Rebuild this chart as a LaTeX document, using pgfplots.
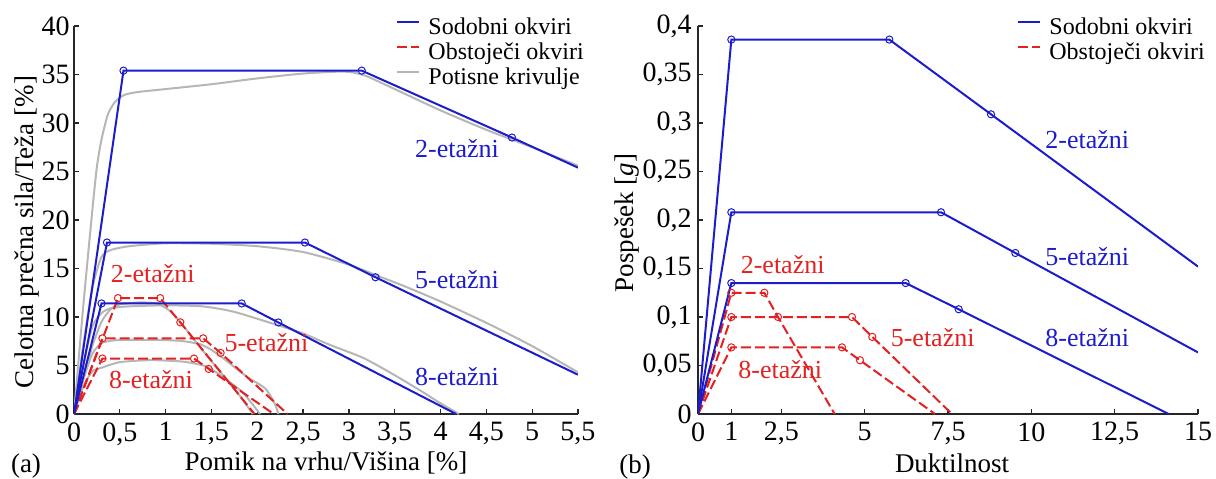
\documentclass[border=0pt]{standalone}
\usepackage{pgfplots}
\pgfplotsset{compat=1.18}
\usepackage{fontspec}
\setmainfont{Liberation Serif}

\definecolor{modern}{RGB}{28,28,205}
\definecolor{existing}{RGB}{228,32,32}
\definecolor{pushover}{RGB}{182,182,182}

\tikzset{curvelabel/.style={font=\fontsize{13}{15}\selectfont}}

\pgfplotsset{
  panel/.style={
    scale only axis,
    anchor=south west,
    axis x line=bottom, axis y line=left,
    axis line style={-, line width=0.6pt, black!85},
    every tick/.style={line width=0.6pt, black!85},
    tick align=inside,
    major tick length=2.5pt,
    xmin=0, ymin=0,
    /pgf/number format/assume math mode=true,
    /pgf/number format/use comma,
    /pgf/number format/1000 sep={},
    ticklabel style={font=\fontsize{14}{16}\selectfont, inner sep=0pt},
    xticklabel style={yshift=-4pt},
    legend style={draw=none, fill=none, anchor=north west, inner sep=0pt,
      font=\fontsize{12}{14}\selectfont, column sep=4pt, row sep=0.5pt,
      nodes={inner sep=0pt, text height=8.5pt, text depth=3.5pt}},
    legend cell align=left,
    legend image code/.code={\draw[##1] (0pt,4pt) -- (11pt,4pt);},
  },
  modernline/.style={modern, line width=1pt},
  existingline/.style={existing, line width=1pt, dash pattern=on 5pt off 2pt},
  pushline/.style={pushover, line width=1pt, smooth, tension=0.4},
  modernmark/.style={only marks, mark=o, mark size=1.8pt, modern, line width=0.5pt},
  existingmark/.style={only marks, mark=o, mark size=1.8pt, existing, line width=0.5pt},
}

\begin{document}
\begin{tikzpicture}
\useasboundingbox (0pt,0pt) rectangle (608pt,-239pt);

% ---------------- (a) base shear vs. roof drift ----------------
\begin{axis}[panel, at={(37pt,-207pt)}, width=252pt, height=194pt,
  xmax=5.5, ymax=40,
  xtick={0,0.5,1,1.5,2,2.5,3,3.5,4,4.5,5,5.5},
  ytick={0,5,10,15,20,25,30,35,40},
  yticklabel style={xshift=-2pt},
  legend style={at={(rel axis cs:0.639,1.0224)}},
]
\addlegendimage{modernline}\addlegendentry{Sodobni okviri}
\addlegendimage{existingline}\addlegendentry{Obstoječi okviri}
\addlegendimage{pushover, line width=1pt}\addlegendentry{Potisne krivulje}

% pushover curves
\addplot[pushline, forget plot] coordinates {(0,0) (0.1,11) (0.2,21) (0.25,25.5) (0.3,28.3) (0.37,30.9) (0.45,32.2) (0.55,32.9) (0.7,33.2) (1.0,33.5) (1.5,34.0) (2.0,34.6) (2.5,35.1) (2.9,35.3) (3.05,35.2) (3.2,34.8) (3.5,33.5) (4.0,31.3) (4.5,29.3) (5.0,27.5) (5.5,25.6)};
\addplot[pushline, forget plot] coordinates {(0,0) (0.1,7) (0.2,13) (0.3,16.2) (0.4,16.9) (0.6,17.3) (1.0,17.6) (1.5,17.55) (2.0,17.3) (2.5,16.7) (3.0,15.4) (3.3,14.3) (3.6,13.2) (4.0,11.6) (4.5,9.4) (5.0,7.0) (5.5,4.3)};
\addplot[pushline, forget plot] coordinates {(0,0) (0.1,5) (0.2,9) (0.3,10.4) (0.4,10.9) (0.6,11.1) (1.0,11.2) (1.4,11.1) (1.74,10.55) (2.21,9.2) (2.5,8.3) (2.8,7.1) (3.16,5.77) (3.5,4.0) (3.8,2.3) (4.0,1.1) (4.2,0)};
\addplot[pushline, forget plot] coordinates {(0,0) (0.1,3.5) (0.2,7) (0.3,9.5) (0.4,10.8) (0.5,11.3) (0.7,11.5) (0.9,11.4) (1.05,10.6) (1.2,9) (1.4,6.6) (1.6,4.3) (1.8,2) (1.95,0)};
\addplot[pushline, forget plot] coordinates {(0,0) (0.1,3.5) (0.2,6.2) (0.3,7.3) (0.45,7.6) (0.8,7.65) (1.05,7.6) (1.2,7.5) (1.375,7.2) (1.5,6.6) (1.63,5.74) (1.885,3.85) (2.085,2.65) (2.19,1.1) (2.23,0)};
\addplot[pushline, forget plot] coordinates {(0,0) (0.1,2.8) (0.2,4.4) (0.31,4.8) (0.5,5.35) (0.83,5.55) (1.19,5.4) (1.45,4.88) (1.67,3.5) (1.85,2.13) (2.03,0)};

% existing frames (idealised)
\addplot[existingline, forget plot] coordinates {(0,0) (0.48,11.95) (0.94,11.95) (1.16,9.45) (1.97,0)};
\addplot[existingmark, forget plot] coordinates {(0.48,11.95) (0.94,11.95) (1.16,9.45)};
\addplot[existingline, forget plot] coordinates {(0,0) (0.31,7.8) (1.41,7.8) (1.60,6.3) (2.33,0)};
\addplot[existingmark, forget plot] coordinates {(0.31,7.8) (1.41,7.8) (1.60,6.3)};
\addplot[existingline, forget plot] coordinates {(0,0) (0.31,5.72) (1.31,5.72) (1.47,4.65) (2.18,0)};
\addplot[existingmark, forget plot] coordinates {(0.31,5.72) (1.31,5.72) (1.47,4.65)};

% modern frames (idealised)
\addplot[modernline, forget plot] coordinates {(0,0) (0.54,35.4) (3.14,35.4) (4.78,28.5) (5.5,25.4)};
\addplot[modernmark, forget plot] coordinates {(0.54,35.4) (3.14,35.4) (4.78,28.5)};
\addplot[modernline, forget plot] coordinates {(0,0) (0.36,17.68) (2.52,17.68) (3.29,14.1) (5.5,4.05)};
\addplot[modernmark, forget plot] coordinates {(0.36,17.68) (2.52,17.68) (3.29,14.1)};
\addplot[modernline, forget plot] coordinates {(0,0) (0.30,11.4) (1.83,11.4) (2.23,9.44) (4.17,0)};
\addplot[modernmark, forget plot] coordinates {(0.30,11.4) (1.83,11.4) (2.23,9.44)};

\node[curvelabel, modern] at (axis cs:4.18,27.4) {2-etažni};
\node[curvelabel, modern] at (axis cs:4.18,13.9) {5-etažni};
\node[curvelabel, modern] at (axis cs:4.18,3.9) {8-etažni};
\node[curvelabel, existing] at (axis cs:0.86,14.5) {2-etažni};
\node[curvelabel, existing] at (axis cs:2.10,7.4) {5-etažni};
\node[curvelabel, existing] at (axis cs:0.84,3.5) {8-etažni};
\end{axis}

% ---------------- (b) acceleration vs. ductility ----------------
\begin{axis}[panel, at={(349pt,-207pt)}, width=250pt, height=194pt,
  xmax=15, ymax=0.4,
  xtick={0,1,2.5,5,7.5,10,12.5,15},
  ytick={0,0.05,0.1,0.15,0.2,0.25,0.3,0.35,0.4},
  yticklabel style={xshift=-3pt, /pgf/number format/.cd, fixed, precision=2},
  legend style={at={(rel axis cs:0.638,1.0224)}},
]
\addlegendimage{modernline}\addlegendentry{Sodobni okviri}
\addlegendimage{existingline}\addlegendentry{Obstoječi okviri}

\addplot[existingline, forget plot] coordinates {(0,0) (1,0.125) (1.99,0.125) (2.40,0.1) (4.10,0)};
\addplot[existingmark, forget plot] coordinates {(1,0.125) (1.99,0.125) (2.40,0.1)};
\addplot[existingline, forget plot] coordinates {(0,0) (1,0.1) (4.62,0.1) (5.23,0.0795) (7.62,0)};
\addplot[existingmark, forget plot] coordinates {(1,0.1) (4.62,0.1) (5.23,0.0795)};
\addplot[existingline, forget plot] coordinates {(0,0) (1,0.0687) (4.32,0.0687) (4.86,0.0554) (7.11,0)};
\addplot[existingmark, forget plot] coordinates {(1,0.0687) (4.32,0.0687) (4.86,0.0554)};

\addplot[modernline, forget plot] coordinates {(0,0) (1,0.386) (5.74,0.386) (8.79,0.309) (15,0.152)};
\addplot[modernmark, forget plot] coordinates {(1,0.386) (5.74,0.386) (8.79,0.309)};
\addplot[modernline, forget plot] coordinates {(0,0) (1,0.208) (7.29,0.208) (9.52,0.166) (15,0.0635)};
\addplot[modernmark, forget plot] coordinates {(1,0.208) (7.29,0.208) (9.52,0.166)};
\addplot[modernline, forget plot] coordinates {(0,0) (1,0.135) (6.23,0.135) (7.82,0.108) (14.12,0)};
\addplot[modernmark, forget plot] coordinates {(1,0.135) (6.23,0.135) (7.82,0.108)};

\node[curvelabel, modern] at (axis cs:11.68,0.2826) {2-etažni};
\node[curvelabel, modern] at (axis cs:11.68,0.162) {5-etažni};
\node[curvelabel, modern] at (axis cs:11.68,0.0786) {8-etažni};
\node[curvelabel, existing] at (axis cs:2.54,0.1537) {2-etažni};
\node[curvelabel, existing] at (axis cs:7.04,0.0786) {5-etažni};
\node[curvelabel, existing] at (axis cs:2.47,0.0456) {8-etažni};
\end{axis}

% axis titles and panel tags
\node[rotate=90, font=\fontsize{13.5}{15}\selectfont] at (13.5pt,-116pt) {Celotna prečna sila/Teža [\%]};
\node[font=\fontsize{13.5}{15}\selectfont] at (163pt,-231.5pt) {Pomik na vrhu/Višina [\%]};
\node[font=\fontsize{13.5}{15}\selectfont] at (13pt,-233pt) {(a)};
\node[rotate=90, font=\fontsize{13.5}{15}\selectfont] at (313.5pt,-111.5pt) {Pospešek [\textit{g}]};
\node[font=\fontsize{13.5}{15}\selectfont] at (476pt,-231.5pt) {Duktilnost};
\node[font=\fontsize{13.5}{15}\selectfont] at (317.5pt,-233.5pt) {(b)};
\end{tikzpicture}
\end{document}
